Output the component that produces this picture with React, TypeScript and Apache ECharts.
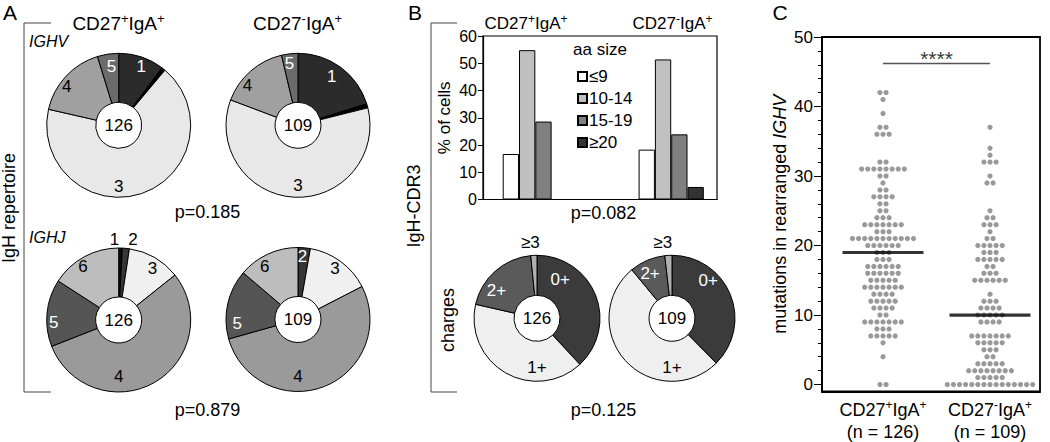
import React, { useEffect, useRef } from 'react';
import * as echarts from 'echarts';

// ---------------- DATA ----------------
const groupLabels = ['CD27+IgA+', 'CD27-IgA+'];
const groupN = [126, 109];

// Panel A – IgH repertoire (cell counts)
const ighvFamilies = ['1', '2', '3', '4', '5'];
const ighvCD27pos = [13, 1, 85, 21, 6];
const ighvCD27neg = [22, 1, 65, 17, 4];
const ighjGenes = ['1', '2', '3', '4', '5', '6'];
const ighjCD27pos = [1, 2, 15, 69, 19, 20];
const ighjCD27neg = [0, 3, 16, 58, 17, 15];
const pIGHV = 'p=0.185';
const pIGHJ = 'p=0.879';

// Panel B – IgH-CDR3
const cdr3Sizes = ['≤9', '10-14', '15-19', '≥20'];
const cdr3CD27pos = [16.7, 54.8, 28.6, 0];
const cdr3CD27neg = [18.3, 51.4, 23.9, 4.6];
const pCDR3 = 'p=0.082';
const chargeClasses = ['0+', '1+', '2+', '≥3'];
const chargeCD27pos = [48, 51, 25, 2];
const chargeCD27neg = [41, 56, 10, 2];
const pCharge = 'p=0.125';

// Panel C – mutations in rearranged IGHV: [mutations, number of cells]
const mutCD27pos: [number, number][] = [
  [0, 2], [4, 1], [6, 1], [7, 5], [8, 3], [9, 7], [10, 2], [11, 4], [12, 5], [13, 4],
  [14, 7], [15, 5], [16, 6], [17, 6], [18, 3], [19, 3], [20, 6], [21, 11], [22, 3],
  [23, 7], [24, 3], [25, 2], [26, 2], [27, 4], [28, 2], [29, 1], [30, 2], [31, 8],
  [32, 2], [36, 3], [37, 2], [39, 1], [41, 1], [42, 2],
];
const mutCD27neg: [number, number][] = [
  [0, 15], [1, 5], [2, 8], [3, 5], [4, 2], [5, 3], [6, 5], [7, 7], [9, 4], [10, 5],
  [11, 4], [12, 3], [13, 1], [15, 6], [16, 3], [17, 2], [18, 5], [19, 3], [20, 5],
  [21, 2], [22, 1], [23, 3], [24, 2], [25, 1], [29, 2], [30, 1], [32, 3], [33, 1],
  [34, 1], [37, 1],
];
const mutMedians = [19, 10];
const mutSignificance = '****';
const cdr3TickLabels = [0, 10, 20, 30, 40, 50, 60];
const mutTickLabels = [0, 10, 20, 30, 40, 50];

// ---------------- STYLE / LAYOUT ----------------
const FONT = '"Liberation Sans", Arial, Helvetica, sans-serif';
const ighvColors = ['#2b2b2b', '#000000', '#e8e8e8', '#a0a0a0', '#6b6b6b'];
const ighvLabelColors = ['#fff', '#fff', '#000', '#000', '#fff'];
const ighjColors = ['#0a0a0a', '#363636', '#f0f0f0', '#9a9a9a', '#555555', '#bdbdbd'];
const ighjPosLabelColors = ['#000', '#000', '#000', '#000', '#fff', '#000'];
const ighjNegLabelColors = ['#000', '#fff', '#000', '#000', '#fff', '#000'];
const chargeColors = ['#3b3b3b', '#efefef', '#5a5a5a', '#b0b0b0'];
const chargeLabelColors = ['#fff', '#000', '#fff', '#000'];
const barColors = ['#ffffff', '#c0c0c0', '#808080', '#333333'];

// label placement in polar form [angle deg clockwise from 12 o'clock, radius px]
type Polar = [number, number] | null;
const ighvPosLbl: Polar[] = [[21, 63], null, [180, 61], [307, 65], [353, 59]];
const ighvNegLbl: Polar[] = [[35, 59], null, [180, 60], [308, 64], [352, 62]];
const ighjPosLbl: Polar[] = [[357, 81], [10, 82], [33, 62], [180, 56], [268, 65], [326, 64]];
const ighjNegLbl: Polar[] = [null, [4, 63], [36, 63], [180, 57], [266, 61], [328, 63]];
const chargePosLbl: Polar[] = [[31, 45], [180, 49], [304, 49], [355, 76]];
const chargeNegLbl: Polar[] = [[44, 52], [180, 49], [334, 50], [353, 76]];

const C_IGHV_POS = [118.7, 125.3];
const C_IGHV_NEG = [298, 125.3];
const C_IGHJ_POS = [118.7, 320];
const C_IGHJ_NEG = [298, 319.5];
const C_CH_POS = [537, 318.3];
const C_CH_NEG = [672, 318.3];
const R_A = [23, 72];
const R_B = [23, 63];
const DOT_STEP = 6.1;
const SIG_Y = 46.2;

function supRich(fs: number, colorKey: 'fill' | 'color') {
  const s = Math.round(fs * 0.68);
  return {
    n: { fontSize: fs, fontFamily: FONT, [colorKey]: '#000', lineHeight: fs + 4 },
    s: { fontSize: s, fontFamily: FONT, [colorKey]: '#000', verticalAlign: 'top', lineHeight: s - 1 },
  };
}
function supText(label: string) {
  return '{n|' + label.replace(/([+-])/g, '}{s|$1}{n|') + '}';
}

function pieSeries(names: string[], values: number[], colors: string[], lblColors: string[], polar: Polar[], center: number[], radius: number[]) {
  return {
    type: 'pie',
    center,
    radius,
    startAngle: 90,
    clockwise: true,
    avoidLabelOverlap: false,
    silent: true,
    label: { show: true, position: 'inside', fontSize: 17, fontFamily: FONT, formatter: '{b}' },
    labelLine: { show: false },
    itemStyle: { borderColor: '#000', borderWidth: 1 },
    labelLayout: (params: any) => {
      const p = polar[params.dataIndex];
      if (!p) return {};
      const a = (p[0] * Math.PI) / 180;
      return { x: center[0] + p[1] * Math.sin(a), y: center[1] - p[1] * Math.cos(a) };
    },
    data: names.map((n, i) => ({
      name: n,
      value: values[i],
      itemStyle: { color: colors[i] },
      label: { show: !!polar[i], color: lblColors[i] },
    })),
  };
}

function swarm(x: number, counts: [number, number][]) {
  const out: any[] = [];
  counts.forEach(([v, c]) => {
    for (let k = 0; k < c; k++) out.push({ value: [x, v], symbolOffset: [(k - (c - 1) / 2) * DOT_STEP, 0] });
  });
  return out;
}

function txt(x: number, y: number, text: string, o: any = {}) {
  return {
    type: 'text',
    x,
    y,
    rotation: o.rot || 0,
    z: 100,
    style: {
      text,
      fontSize: o.fs || 18,
      fontFamily: FONT,
      fontStyle: o.italic ? 'italic' : 'normal',
      fill: '#000',
      align: o.align || 'center',
      verticalAlign: 'middle',
      rich: o.rich,
    },
  };
}

function bracket(x: number, top: number, bottom: number, len: number) {
  return {
    type: 'polyline',
    z: 100,
    shape: { points: [[x + len, top], [x, top], [x, bottom], [x + len, bottom]] },
    style: { stroke: '#444', lineWidth: 1, fill: null },
  };
}

export default function App() {
  const ref = useRef<HTMLDivElement>(null);
  useEffect(() => {
    if (!ref.current) return;
    const chart = echarts.init(ref.current, undefined, { renderer: 'svg' });
    const majorMut = mutTickLabels;
    const minorMut: number[] = [];
    for (let v = 0; v <= 50; v += 2) if (v % 10 !== 0) minorMut.push(v);

    const graphic: any[] = [
      txt(10, 12, 'A', { fs: 21 }),
      txt(415, 12, 'B', { fs: 21 }),
      txt(780, 12, 'C', { fs: 21 }),
      bracket(24, 23, 392, 27),
      bracket(431, 23, 392, 26),
      txt(9, 208, 'IgH repertoire', { rot: Math.PI / 2, fs: 18 }),
      txt(118.5, 23, supText(groupLabels[0]), { rich: supRich(19, 'fill') }),
      txt(297.5, 23, supText(groupLabels[1]), { rich: supRich(19, 'fill') }),
      txt(29, 41, 'IGHV', { italic: true, fs: 16, align: 'left' }),
      txt(29, 237, 'IGHJ', { italic: true, fs: 16, align: 'left' }),
      txt(207.5, 212, pIGHV),
      txt(207.5, 410, pIGHJ),
      txt(C_IGHV_POS[0], C_IGHV_POS[1], String(groupN[0]), { fs: 17 }),
      txt(C_IGHV_NEG[0], C_IGHV_NEG[1], String(groupN[1]), { fs: 17 }),
      txt(C_IGHJ_POS[0], C_IGHJ_POS[1], String(groupN[0]), { fs: 17 }),
      txt(C_IGHJ_NEG[0], C_IGHJ_NEG[1], String(groupN[1]), { fs: 17 }),
      txt(C_CH_POS[0], C_CH_POS[1], String(groupN[0]), { fs: 17 }),
      txt(C_CH_NEG[0], C_CH_NEG[1], String(groupN[1]), { fs: 17 }),
      txt(526, 23, supText(groupLabels[0]), { rich: supRich(17, 'fill') }),
      txt(672.5, 23, supText(groupLabels[1]), { rich: supRich(17, 'fill') }),
      txt(414, 206, 'IgH-CDR3', { rot: Math.PI / 2, fs: 18 }),
      txt(448, 320, 'charges', { rot: Math.PI / 2, fs: 18 }),
      txt(573, 49, 'aa size', { fs: 17, align: 'left' }),
      txt(603.5, 213, pCDR3),
      txt(603.5, 410, pCharge),
    ];

    const lineStyleBlack = { color: '#000', width: 1.2 };

    const option: any = {
      animation: false,
      backgroundColor: '#ffffff',
      textStyle: { fontFamily: FONT },
      graphic,
      legend: {
        data: cdr3Sizes,
        orient: 'vertical',
        left: 572,
        top: 63,
        itemWidth: 9,
        itemHeight: 9,
        itemGap: 5,
        icon: 'rect',
        selectedMode: false,
        textStyle: { fontSize: 17, color: '#000', fontFamily: FONT, padding: [0, 0, 0, -3] },
      },
      grid: [
        { left: 483, top: 36, width: 234, height: 163.5, show: true, borderColor: '#000', borderWidth: 1.2, backgroundColor: 'transparent' },
        { left: 822, top: 37, width: 218, height: 354.5, show: true, borderColor: '#000', borderWidth: 1.8, backgroundColor: 'transparent' },
      ],
      xAxis: [
        {
          type: 'value', gridIndex: 0, min: -0.385, max: 1.337, position: 'bottom',
          axisLine: { show: true, onZero: false, lineStyle: lineStyleBlack },
          axisTick: { show: false }, axisLabel: { show: false }, splitLine: { show: false },
        },
        {
          type: 'value', gridIndex: 1, min: 0.43, max: 2.467, position: 'bottom',
          axisLine: { show: true, onZero: false, lineStyle: { color: '#000', width: 1.8 } },
          axisTick: { show: false }, splitLine: { show: false },
          axisLabel: {
            customValues: [1, 2],
            margin: 7,
            formatter: (v: number) => {
              const i = Math.round(v) - 1;
              if (i < 0 || i > 1) return '';
              return supText(groupLabels[i]) + '\n{n|(n = ' + groupN[i] + ')}';
            },
            rich: supRich(18, 'color'),
          },
        },
      ],
      yAxis: [
        {
          type: 'value', gridIndex: 0, min: 0, max: 60, interval: 10, position: 'left',
          name: '% of cells', nameLocation: 'middle', nameGap: 30,
          nameTextStyle: { fontSize: 17, color: '#000', fontFamily: FONT },
          axisLine: { show: true, onZero: false, lineStyle: lineStyleBlack },
          axisTick: { show: true, length: 5, lineStyle: { color: '#000', width: 1 } },
          axisLabel: { fontSize: 16, color: '#000', margin: 6, formatter: (v: number) => (cdr3TickLabels.includes(v) ? String(v) : '') },
          splitLine: { show: false },
        },
        {
          type: 'value', gridIndex: 1, min: -1, max: 50, position: 'left', offset: 0,
          name: '{a|mutations in rearranged }{i|IGHV}', nameLocation: 'middle', nameGap: 33,
          nameTextStyle: {
            fontSize: 18, color: '#000', fontFamily: FONT,
            rich: {
              a: { fontSize: 18, color: '#000', fontFamily: FONT },
              i: { fontSize: 18, color: '#000', fontFamily: FONT, fontStyle: 'italic' },
            },
          },
          axisLine: { show: true, onZero: false, lineStyle: { color: '#000', width: 1.8 } },
          axisTick: { show: true, customValues: majorMut, length: 8, lineStyle: { color: '#000', width: 1 } },
          axisLabel: { customValues: majorMut, fontSize: 17, color: '#000', margin: 9 },
          splitLine: { show: false },
        },
        {
          type: 'value', gridIndex: 1, min: -1, max: 50, position: 'left', offset: 0,
          axisLine: { show: false, onZero: false },
          axisTick: { show: true, customValues: minorMut, length: 4, lineStyle: { color: '#000', width: 1 } },
          axisLabel: { show: false },
          splitLine: { show: false },
        },
      ],
      series: [
        pieSeries(ighvFamilies, ighvCD27pos, ighvColors, ighvLabelColors, ighvPosLbl, C_IGHV_POS, R_A),
        pieSeries(ighvFamilies, ighvCD27neg, ighvColors, ighvLabelColors, ighvNegLbl, C_IGHV_NEG, R_A),
        pieSeries(ighjGenes, ighjCD27pos, ighjColors, ighjPosLabelColors, ighjPosLbl, C_IGHJ_POS, R_A),
        pieSeries(ighjGenes, ighjCD27neg, ighjColors, ighjNegLabelColors, ighjNegLbl, C_IGHJ_NEG, R_A),
        pieSeries(chargeClasses, chargeCD27pos, chargeColors, chargeLabelColors, chargePosLbl, C_CH_POS, R_B),
        pieSeries(chargeClasses, chargeCD27neg, chargeColors, chargeLabelColors, chargeNegLbl, C_CH_NEG, R_B),
        ...cdr3Sizes.map((name, i) => ({
          type: 'bar', name, xAxisIndex: 0, yAxisIndex: 0,
          barWidth: 16.3, barGap: '0%',
          itemStyle: { color: barColors[i], borderColor: '#000', borderWidth: 1 },
          data: [[0, cdr3CD27pos[i]], [1, cdr3CD27neg[i]]],
        })),
        {
          type: 'scatter', name: 'mut+', xAxisIndex: 1, yAxisIndex: 1, symbolSize: 5.2,
          itemStyle: { color: '#808080' }, silent: true, data: swarm(1, mutCD27pos),
        },
        {
          type: 'scatter', name: 'mut-', xAxisIndex: 1, yAxisIndex: 1, symbolSize: 5.2,
          itemStyle: { color: '#808080' }, silent: true, data: swarm(2, mutCD27neg),
        },
        {
          type: 'scatter', name: 'median', xAxisIndex: 1, yAxisIndex: 1, symbol: 'rect',
          symbolSize: [81, 3.2], z: 5, silent: true, itemStyle: { color: '#000' },
          data: mutMedians.map((m, i) => [i + 1, m]),
        },
        {
          type: 'line', name: 'sig', xAxisIndex: 1, yAxisIndex: 1, symbol: 'none', silent: true,
          lineStyle: { color: '#555', width: 1.5 },
          data: [[1, SIG_Y], [2, SIG_Y]],
        },
        {
          type: 'scatter', name: 'sigText', xAxisIndex: 1, yAxisIndex: 1, symbolSize: 0, silent: true,
          itemStyle: { color: 'transparent' },
          label: { show: true, position: 'top', distance: -6, formatter: mutSignificance, fontSize: 21, color: '#000', fontFamily: FONT },
          data: [[1.5, SIG_Y]],
        },
      ],
    };
    chart.setOption(option);
    return () => chart.dispose();
  }, []);
  return <div ref={ref} style={{ position: 'fixed', left: 0, top: 0, width: 1050, height: 442, background: '#fff' }} />;
}
